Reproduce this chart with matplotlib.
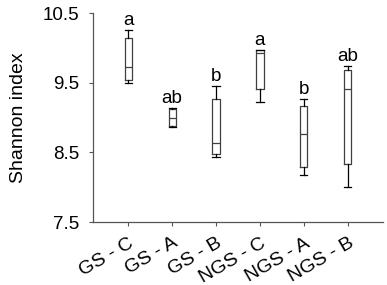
import matplotlib
matplotlib.use("Agg")
import matplotlib.pyplot as plt

plt.rcParams['font.family'] = ['Liberation Sans', 'DejaVu Sans']

# Box summary values
groups = ["GS - C", "GS - A", "GS - B", "NGS - C", "NGS - A", "NGS - B"]
whisker_low = [9.49, 8.86, 8.43, 9.23, 8.17, 8.00]
q1 = [9.54, 8.88, 8.47, 9.41, 8.29, 8.33]
median = [9.73, 9.00, 8.63, 9.93, 8.76, 9.41]
q3 = [10.14, 9.12, 9.27, 9.97, 9.17, 9.69]
whisker_high = [10.26, 9.14, 9.46, 9.97, 9.27, 9.74]
letters = ["a", "ab", "b", "a", "b", "ab"]

stats = []
for i, g in enumerate(groups):
    stats.append({"label": g, "whislo": whisker_low[i], "q1": q1[i], "med": median[i],
                  "q3": q3[i], "whishi": whisker_high[i], "fliers": []})

fig = plt.figure(figsize=(3.87, 2.85), dpi=100)
ax = fig.add_axes([0.240, 0.221, 0.750, 0.733])

line_col = "#404040"
positions = list(range(1, len(groups) + 1))
ax.bxp(stats, positions=positions, widths=0.16, showfliers=False,
       boxprops=dict(color=line_col, linewidth=0.9),
       medianprops=dict(color=line_col, linewidth=0.9),
       whiskerprops=dict(color="black", linewidth=0.9),
       capprops=dict(color="black", linewidth=0.9),
       capwidths=0.16)

for x, top, lab in zip(positions, whisker_high, letters):
    ax.text(x, top + 0.07, lab, ha="center", va="baseline", fontsize=13.5)

ax.set_xlim(0.2, 6.8)
ax.set_ylim(7.5, 10.5)
ax.set_yticks([7.5, 8.5, 9.5, 10.5])
ax.set_yticklabels(["7.5", "8.5", "9.5", "10.5"], fontsize=13.5)
ax.set_xticks(positions)
ax.set_xticklabels(groups, fontsize=14, rotation=30, ha="right", rotation_mode="anchor")
ax.set_ylabel("Shannon index", fontsize=14, labelpad=11)

for s in ["top", "right"]:
    ax.spines[s].set_visible(False)
for s in ["left", "bottom"]:
    ax.spines[s].set_color("#555555")
    ax.spines[s].set_linewidth(0.9)
ax.tick_params(direction="out", length=3, width=0.8, color="#555555")
ax.tick_params(axis="y", pad=7)
ax.tick_params(axis="x", pad=6)

fig.savefig("out.png", dpi=100)
